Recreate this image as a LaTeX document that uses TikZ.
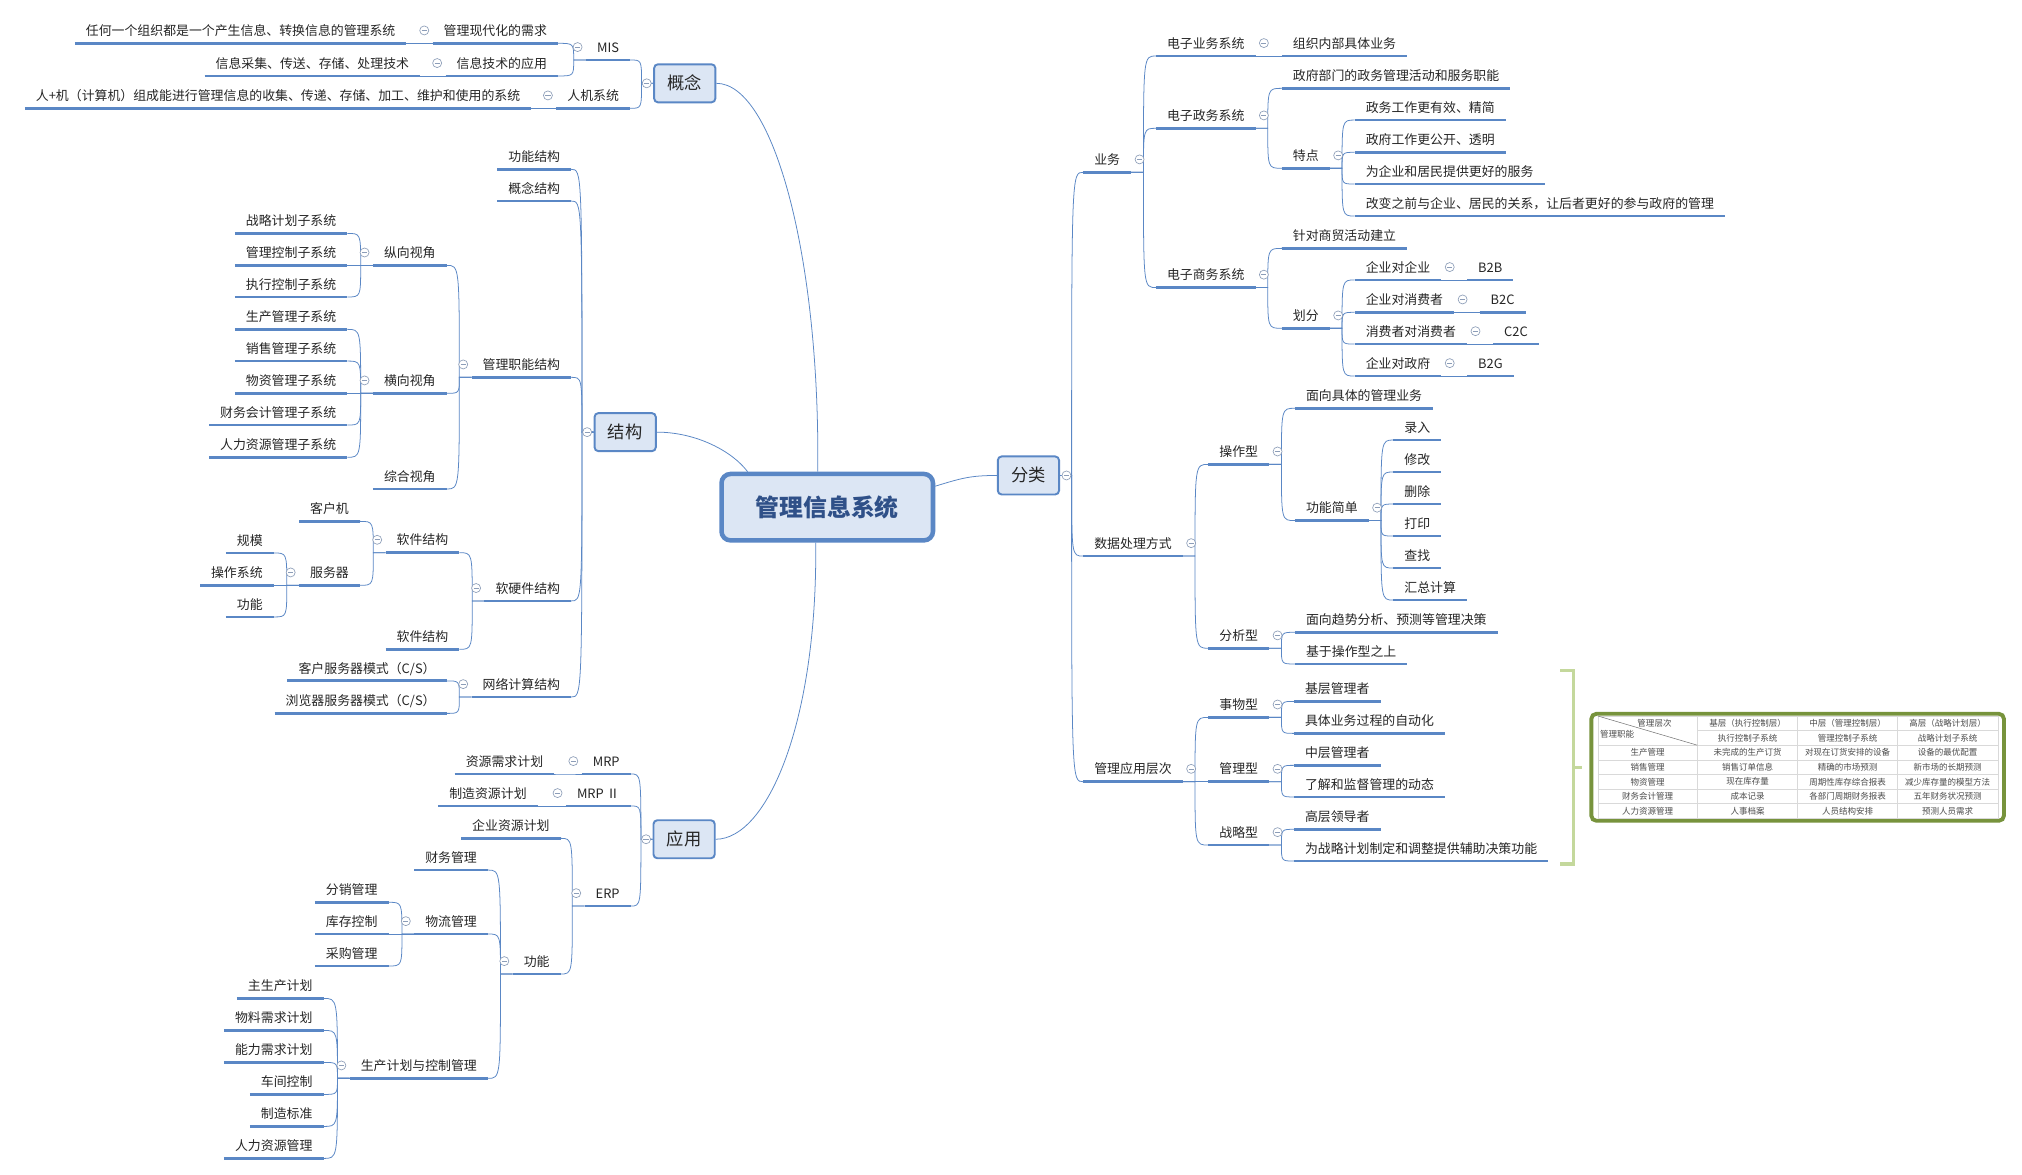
\documentclass[tikz,border=0pt]{standalone}
\usepackage{fontspec}
\setmainfont{Noto Sans CJK SC}
\definecolor{lineblue}{HTML}{5A87C5}
\definecolor{boxfill}{HTML}{DCE6F4}
\definecolor{titleblue}{HTML}{2F5088}
\definecolor{tblgreen}{HTML}{77933C}
\definecolor{brgreen}{HTML}{C4D89C}
\definecolor{foldgray}{HTML}{8C9DB8}
\definecolor{textgray}{HTML}{262626}

% links: parent on the right of its children (L) or on the left (R)
\newcommand\linkL[2]{%
  \path (#1.south west) ++(-9.5pt,0) coordinate (jn);
  \draw[conn] (#1.south west) -- (jn) .. controls (jn |- #2.south east) .. (#2.south east);}
\newcommand\linkR[2]{%
  \path (#1.south east) ++(9.5pt,0) coordinate (jn);
  \draw[conn] (#1.south east) -- (jn) .. controls (jn |- #2.south west) .. (#2.south west);}
\newcommand\boxL[2]{%
  \path (#1.west) ++(-9pt,0) coordinate (jn);
  \draw[conn] (#1.west) -- (jn) .. controls (jn |- #2.south east) .. (#2.south east);}
\newcommand\boxR[2]{%
  \path (#1.east) ++(9pt,0) coordinate (jn);
  \draw[conn] (#1.east) -- (jn) .. controls (jn |- #2.south west) .. (#2.south west);}
% fold signs
\newcommand\foldL[1]{\node[fold] (#1-f) at ([shift={(-6.5pt,10pt)}]#1.south west) {};}
\newcommand\foldR[1]{\node[fold] (#1-f) at ([shift={(6.5pt,10pt)}]#1.south east) {};}
\newcommand\foldBL[1]{\node[fold] (#1-f) at ([xshift=-5pt]#1.west) {};}
\newcommand\foldBR[1]{\node[fold] (#1-f) at ([xshift=5pt]#1.east) {};}

\begin{document}
\begin{tikzpicture}[
		x=1pt,y=-1pt,
		conn/.style = {draw=lineblue, line width=0.6pt},
		uline/.style = {draw=lineblue, line width=2.2pt},
		topic/.style = {font=\fontsize{10}{12}\selectfont, text=textgray, inner xsep=8.4pt,
			inner ysep=5.8pt, text height=8pt, text depth=0pt,
			append after command={(\tikzlastnode.south west) edge[uline] (\tikzlastnode.south east)}},
		leftitem/.style = {topic, anchor=south east},
		rightitem/.style = {topic, anchor=south west},
		branch/.style = {draw=lineblue, line width=1.5pt, fill=boxfill, rounded corners=3pt,
			minimum width=47.5pt, minimum height=29.5pt, inner sep=0pt,
			font=\fontsize{13.4}{15}\selectfont, text=textgray},
		root/.style = {draw=lineblue, line width=3.5pt, fill=boxfill, rounded corners=7pt,
			minimum width=164pt, minimum height=51.5pt, inner sep=0pt,
			font=\fontsize{18.5}{20}\selectfont\bfseries, text=titleblue},
		fold/.style = {circle, draw=foldgray, fill=white, line width=0.5pt, minimum size=7pt, inner sep=0pt,
			path picture={\draw[foldgray, line width=0.5pt] ([xshift=-2pt]path picture bounding box.center) -- ([xshift=2pt]path picture bounding box.center);}},
		brace/.style = {draw=brgreen, line width=2.6pt},
		tblframe/.style = {draw=tblgreen, line width=3pt, fill=white, rounded corners=4pt,
			minimum width=320pt, minimum height=83pt},
		grid/.style = {draw=black!15, line width=0.4pt},
		cell/.style = {font=\fontsize{6.6}{8}\selectfont, text=black!70, inner sep=0pt}
	]
	\path[use as bounding box, fill=white] (0,0) rectangle (1568,911);

	\node[root] (root) at (641.5,393.3) {管理信息系统};
	\node[branch] (gn) at (531,64.6) {概念};
	\node[branch] (jg) at (484.8,335.1) {结构};
	\node[branch] (yy) at (530.5,650.8) {应用};
	\node[branch] (fl) at (797.5,368.7) {分类};

	% 概念
	\node[leftitem] (mis) at (488.6,46.5) {MIS};
	\node[leftitem] (mis1) at (432.7,33.6) {管理现代化的需求};
	\node[leftitem] (mis1a) at (315.2,33.6) {任何一个组织都是一个产生信息、转换信息的管理系统};
	\node[leftitem] (mis2) at (432.7,58.9) {信息技术的应用};
	\node[leftitem] (mis2a) at (325.8,58.9) {信息采集、传送、存储、处理技术};
	\node[leftitem] (rjxt) at (488.6,84) {人机系统};
	\node[leftitem] (rjxta) at (412,84) {人+机（计算机）组成能进行管理信息的收集、传递、存储、加工、维护和使用的系统};

	% 结构
	\node[leftitem] (gnjg) at (442.9,131.3) {功能结构};
	\node[leftitem] (gnjg2) at (442.9,155.9) {概念结构};
	\node[leftitem] (zn) at (442.9,292.6) {管理职能结构};
	\node[leftitem] (zx) at (346.4,205.8) {纵向视角};
	\node[leftitem] (zx1) at (269.3,181) {战略计划子系统};
	\node[leftitem] (zx2) at (269.3,205.8) {管理控制子系统};
	\node[leftitem] (zx3) at (269.3,230.3) {执行控制子系统};
	\node[leftitem] (hx) at (346.4,305) {横向视角};
	\node[leftitem] (hx1) at (269.3,255.4) {生产管理子系统};
	\node[leftitem] (hx2) at (269.3,280) {销售管理子系统};
	\node[leftitem] (hx3) at (269.3,305) {物资管理子系统};
	\node[leftitem] (hx4) at (269.3,329.6) {财务会计管理子系统};
	\node[leftitem] (hx5) at (269.3,354.6) {人力资源管理子系统};
	\node[leftitem] (zh) at (346.4,379.2) {综合视角};
	\node[leftitem] (ryj) at (442.9,466) {软硬件结构};
	\node[leftitem] (rj1) at (356.2,428.6) {软件结构};
	\node[leftitem] (khj) at (279.1,404.3) {客户机};
	\node[leftitem] (fwq) at (279.1,453.9) {服务器};
	\node[leftitem] (fwq1) at (212.3,428.8) {规模};
	\node[leftitem] (fwq2) at (212.3,453.9) {操作系统};
	\node[leftitem] (fwq3) at (212.3,478.4) {功能};
	\node[leftitem] (rj2) at (356.2,503.5) {软件结构};
	\node[leftitem] (wl) at (442.9,540.5) {网络计算结构};
	\node[leftitem] (wl1) at (346.4,528) {客户服务器模式（C/S）};
	\node[leftitem] (wl2) at (346.4,553.2) {浏览器服务器模式（C/S）};

	% 应用
	\node[leftitem] (mrp) at (489.1,600.2) {MRP};
	\node[leftitem] (mrpa) at (429.8,600.2) {资源需求计划};
	\node[leftitem] (mrpii) at (489.1,625) {MRP Ⅱ};
	\node[leftitem] (mrpiia) at (417,625) {制造资源计划};
	\node[leftitem] (erp) at (489.1,702.6) {ERP};
	\node[leftitem] (erpa) at (434.8,650.1) {企业资源计划};
	\node[leftitem] (erpgn) at (434.8,755.3) {功能};
	\node[leftitem] (cw) at (378.4,674.7) {财务管理};
	\node[leftitem] (wlgl) at (378.4,724.3) {物流管理};
	\node[leftitem] (wlgl1) at (301.3,699.7) {分销管理};
	\node[leftitem] (wlgl2) at (301.3,724.3) {库存控制};
	\node[leftitem] (wlgl3) at (301.3,749.1) {采购管理};
	\node[leftitem] (sc) at (378.4,836.2) {生产计划与控制管理};
	\foreach \t [count=\i] in {主生产计划,物料需求计划,能力需求计划,车间控制,制造标准,人力资源管理}
		\node[leftitem] (sc\i) at (250.9,{749.4+\i*24.82}) {\t};

	% 分类
	\node[rightitem] (yw) at (840,133.6) {业务};
	\node[rightitem] (dzyw) at (896.4,43.4) {电子业务系统};
	\node[rightitem] (dzyw1) at (994,43.4) {组织内部具体业务};
	\node[rightitem] (dzzw) at (896.4,99.5) {电子政务系统};
	\node[rightitem] (dzzw1) at (994,68.5) {政府部门的政务管理活动和服务职能};
	\node[rightitem] (td) at (994,130.5) {特点};
	\node[rightitem] (td1) at (1050.5,93.1) {政务工作更有效、精简};
	\node[rightitem] (td2) at (1050.5,118.1) {政府工作更公开、透明};
	\node[rightitem] (td3) at (1050.5,142.7) {为企业和居民提供更好的服务};
	\node[rightitem] (td4) at (1050.5,167.5) {改变之前与企业、居民的关系，让后者更好的参与政府的管理};
	\node[rightitem] (dzsw) at (896.4,223) {电子商务系统};
	\node[rightitem] (dzsw1) at (994,192.6) {针对商贸活动建立};
	\node[rightitem] (hf) at (994,254.6) {划分};
	\node[rightitem] (hf1) at (1050.5,217.1) {企业对企业};
	\node[rightitem] (b2b) at (1137.7,217.1) {B2B};
	\node[rightitem] (hf2) at (1050.5,242.2) {企业对消费者};
	\node[rightitem] (b2c) at (1147.4,242.2) {B2C};
	\node[rightitem] (hf3) at (1050.5,266.8) {消费者对消费者};
	\node[rightitem] (c2c) at (1157.8,266.8) {C2C};
	\node[rightitem] (hf4) at (1050.5,291.6) {企业对政府};
	\node[rightitem] (b2g) at (1137.7,291.6) {B2G};

	\node[rightitem] (sj) at (840,431.2) {数据处理方式};
	\node[rightitem] (czx) at (937,360.1) {操作型};
	\node[rightitem] (czx1) at (1004.2,316.6) {面向具体的管理业务};
	\node[rightitem] (gnjd) at (1004.2,403.7) {功能简单};
	\foreach \t [count=\i] in {录入,修改,删除,打印,查找,汇总计算}
		\node[rightitem] (gnjd\i) at (1080.5,{316.4+\i*24.82}) {\t};
	\node[rightitem] (fxx) at (937,502.7) {分析型};
	\node[rightitem] (fxx1) at (1004.2,490.3) {面向趋势分析、预测等管理决策};
	\node[rightitem] (fxx2) at (1004.2,514.9) {基于操作型之上};

	\node[rightitem] (glyy) at (840,606.2) {管理应用层次};
	\node[rightitem] (swx) at (937,556.3) {事物型};
	\node[rightitem] (swx1) at (1003.4,543.9) {基层管理者};
	\node[rightitem] (swx2) at (1003.4,568.7) {具体业务过程的自动化};
	\node[rightitem] (glx) at (937,606.2) {管理型};
	\node[rightitem] (glx1) at (1003.4,593.5) {中层管理者};
	\node[rightitem] (glx2) at (1003.4,618) {了解和监督管理的动态};
	\node[rightitem] (zlx) at (937,655.3) {战略型};
	\node[rightitem] (zlx1) at (1003.4,643.1) {高层领导者};
	\node[rightitem] (zlx2) at (1003.4,667.7) {为战略计划制定和调整提供辅助决策功能};

	% main branches
	\draw[conn] (root.105) .. controls (636,200) and (600,64.6) .. (gn.east);
	\draw[conn] (root.156) .. controls (568,350) and (540,335.1) .. (jg.east);
	\draw[conn] (root.252) .. controls (634,560) and (595,650.8) .. (yy.east);
	\draw[conn] (root.11) .. controls (745,371) and (752,368.7) .. (fl.west);

	% links
	\boxL{gn}{mis} \boxL{gn}{rjxt}
	\linkL{mis}{mis1} \linkL{mis}{mis2}
	\linkL{mis1}{mis1a} \linkL{mis2}{mis2a} \linkL{rjxt}{rjxta}
	\foreach \c in {gnjg,gnjg2,zn,ryj,wl} {\boxL{jg}{\c}}
	\foreach \c in {zx,hx,zh} {\linkL{zn}{\c}}
	\foreach \c in {zx1,zx2,zx3} {\linkL{zx}{\c}}
	\foreach \c in {hx1,hx2,hx3,hx4,hx5} {\linkL{hx}{\c}}
	\linkL{ryj}{rj1} \linkL{ryj}{rj2}
	\linkL{rj1}{khj} \linkL{rj1}{fwq}
	\foreach \c in {fwq1,fwq2,fwq3} {\linkL{fwq}{\c}}
	\linkL{wl}{wl1} \linkL{wl}{wl2}
	\foreach \c in {mrp,mrpii,erp} {\boxL{yy}{\c}}
	\linkL{mrp}{mrpa} \linkL{mrpii}{mrpiia}
	\linkL{erp}{erpa} \linkL{erp}{erpgn}
	\foreach \c in {cw,wlgl,sc} {\linkL{erpgn}{\c}}
	\foreach \c in {wlgl1,wlgl2,wlgl3} {\linkL{wlgl}{\c}}
	\foreach \i in {1,...,6} {\linkL{sc}{sc\i}}

	\foreach \c in {yw,sj,glyy} {\boxR{fl}{\c}}
	\foreach \c in {dzyw,dzzw,dzsw} {\linkR{yw}{\c}}
	\linkR{dzyw}{dzyw1}
	\linkR{dzzw}{dzzw1} \linkR{dzzw}{td}
	\foreach \i in {1,...,4} {\linkR{td}{td\i}}
	\linkR{dzsw}{dzsw1} \linkR{dzsw}{hf}
	\foreach \i in {1,...,4} {\linkR{hf}{hf\i}}
	\linkR{hf1}{b2b} \linkR{hf2}{b2c} \linkR{hf3}{c2c} \linkR{hf4}{b2g}
	\linkR{sj}{czx} \linkR{sj}{fxx}
	\linkR{czx}{czx1} \linkR{czx}{gnjd}
	\foreach \i in {1,...,6} {\linkR{gnjd}{gnjd\i}}
	\linkR{fxx}{fxx1} \linkR{fxx}{fxx2}
	\foreach \c in {swx,glx,zlx} {\linkR{glyy}{\c}}
	\linkR{swx}{swx1} \linkR{swx}{swx2}
	\linkR{glx}{glx1} \linkR{glx}{glx2}
	\linkR{zlx}{zlx1} \linkR{zlx}{zlx2}

	% fold signs
	\foldBL{gn} \foldBL{jg} \foldBL{yy} \foldBR{fl}
	\foreach \c in {mis,mis1,mis2,rjxt,zn,zx,hx,ryj,rj1,fwq,wl,mrp,mrpii,erp,erpgn,wlgl,sc} {\foldL{\c}}
	\foreach \c in {yw,dzyw,dzzw,td,dzsw,hf,hf1,hf2,hf3,hf4,sj,czx,gnjd,fxx,glyy,swx,glx,zlx} {\foldR{\c}}

	% summary bracket and table
	\node[tblframe] (tbl) at (1394,595) {};
	\coordinate (brtop) at (1209.8,520);
	\coordinate (brbot) at (1209.8,670);
	\coordinate (brmid) at (1220,595);
	\draw[brace] (brtop) -- ++(10.2pt,0) |- (brbot);
	\draw[brace] (brmid) -- ([xshift=-5.4pt]tbl.west);

	\draw[grid] (1239,555.2) rectangle (1549.2,634.6);
	\draw[grid] (1316.3,566.54) -- (1549.2,566.54);
	\foreach \k in {2,...,6}
		\draw[grid] (1239,{555.2+\k*11.343}) -- (1549.2,{555.2+\k*11.343});
	\foreach \x in {1316.3,1393.8,1471.4}
		\draw[grid] (\x,555.2) -- (\x,634.6);
	\draw[draw=black!55, line width=0.4pt] (1239,555.2) -- (1316.3,577.9);

	\node[cell] (hd-a) at (1283,560.6) {管理层次};
	\node[cell] (hd-b) at (1254,569.5) {管理职能};
	\foreach \a/\b [count=\i] in {基层（执行控制层）/执行控制子系统,中层（管理控制层）/管理控制子系统,高层（战略计划层）/战略计划子系统} {
		\node[cell] (hd\i-1) at ({1277.7+\i*77.55},560.9) {\a};
		\node[cell] (hd\i-2) at ({1277.7+\i*77.55},572.2) {\b};
	}
	\foreach \a/\b/\c/\d [count=\r] in {生产管理/未完成的生产订货/对现在订货安排的设备/设备的最优配置,
		销售管理/销售订单信息/精确的市场预测/新市场的长期预测,
		物资管理/现在库存量/周期性库存综合报表/减少库存量的模型方法,
		财务会计管理/成本记录/各部门周期财务报表/五年财务状况预测,
		人力资源管理/人事档案/人员结构安排/预测人员需求} {
		\node[cell] (r\r-0) at (1277.7,{572.2+\r*11.343}) {\a};
		\node[cell] (r\r-1) at (1355.25,{572.2+\r*11.343}) {\b};
		\node[cell] (r\r-2) at (1432.8,{572.2+\r*11.343}) {\c};
		\node[cell] (r\r-3) at (1510.35,{572.2+\r*11.343}) {\d};
	}
\end{tikzpicture}
\end{document}
